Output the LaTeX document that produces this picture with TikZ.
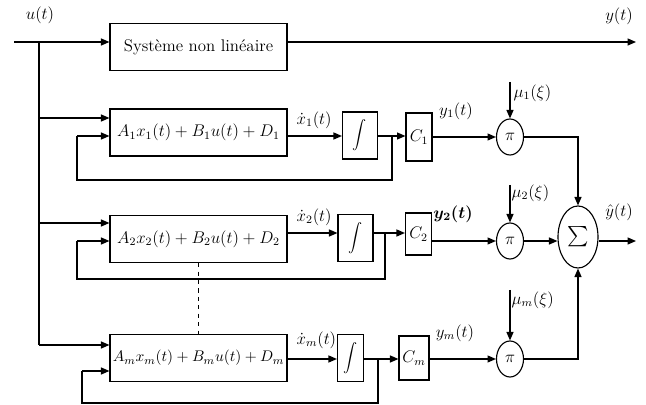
\documentclass[tikz,border=0pt]{standalone}
\usepackage{amsmath}
\usetikzlibrary{arrows.meta,shapes.geometric}

\tikzset{
  blk/.style={draw,thick,minimum width=4.425cm,minimum height=1.175cm,inner sep=0pt,font=\fontsize{11.5}{14}\selectfont},
  intbox/.style={draw,thick,minimum width=0.875cm,minimum height=1.175cm,inner sep=0pt},
  cbox/.style={draw,thick,minimum width=0.65cm,minimum height=1.2cm,inner sep=0pt,font=\large},
  mult/.style={draw,thick,ellipse,minimum width=0.675cm,minimum height=0.9cm,inner sep=0pt,font=\large},
  summ/.style={draw,thick,ellipse,minimum width=1cm,minimum height=1.55cm,inner sep=0pt,font=\Large},
  sig/.style={font=\large,inner sep=1pt},
  fl/.style={thick,-{Triangle[length=6pt,width=5pt]}},
  ln/.style={thick}
}

\begin{document}
\begin{tikzpicture}[x=0.025cm,y=-0.025cm]
            \useasboundingbox (0,0) rectangle (646,405);

            % blocs
            \node[blk,font=\large] (nl) at (198.5,47) {Système non linéaire};
            \node[blk] (b1) at (198.5,132.5) {$A_1x_1(t)+B_1u(t)+D_1$};
            \node[blk] (b2) at (198.5,239) {$A_2x_2(t)+B_2u(t)+D_2$};
            \node[blk,font=\fontsize{10.8}{13}\selectfont] (bm) at (198.5,358) {$A_mx_m(t)+B_mu(t)+D_m$};

            \node[intbox] (i1) at (360,135.5) {$\displaystyle\int$};
            \node[intbox] (i2) at (355.5,238) {$\displaystyle\int$};
            \node[intbox,minimum width=0.65cm] (im) at (350.5,358) {$\displaystyle\int$};

            \node[cbox] (c1) at (419,137) {$C_1$};
            \node[cbox,minimum height=1.05cm] (c2) at (418.5,234) {$C_2$};
            \node[cbox,minimum width=0.75cm,minimum height=1.1cm] (cm) at (414,358) {$C_m$};

            \node[mult] (p1) at (510,137) {$\pi$};
            \node[mult] (p2) at (510,241) {$\pi$};
            \node[mult] (pm) at (510,359) {$\pi$};

            \node[summ] (s) at (578,237) {$\sum$};

            % points
            \coordinate (in) at (14,42);
            \coordinate (j0) at (39,42);
            \coordinate (j1) at (39,118);
            \coordinate (j2) at (39,223);
            \coordinate (jm) at (39,345);
            \coordinate (yout) at (636,42);
            \coordinate (yhat) at (636,241);
            \coordinate (f1) at (392,136);
            \coordinate (f2) at (385,233);
            \coordinate (fm) at (378,359);
            \coordinate (m1) at (510,82);
            \coordinate (m2) at (510,185);
            \coordinate (mm) at (510,290);

            % entree et systeme non lineaire
            \draw[ln] (in) -- (j0) -- (jm);
            \draw[fl] (j0) -- (nl.west |- j0);
            \draw[fl] (nl.east |- j0) -- (yout);

            % branche 1
            \draw[fl] (j1) -- (b1.west |- j1);
            \draw[fl] (b1.east |- f1) -- (i1.west |- f1);
            \draw[fl] (i1.east |- f1) -- (c1.west |- f1);
            \draw[ln] (f1) -- (392,180) -- (77,180) -- (77,136);
            \draw[fl] (77,136) -- (b1.west |- f1);
            \draw[fl] (c1.east |- p1) -- (p1.west);
            \draw[fl] (m1) -- (p1.north);
            \draw[fl] (p1.east) -| (s.north);

            % branche 2
            \draw[fl] (j2) -- (b2.west |- j2);
            \draw[fl] (b2.east |- f2) -- (i2.west |- f2);
            \draw[fl] (i2.east |- f2) -- (c2.west |- f2);
            \draw[ln] (f2) -- (385,279) -- (77,279) -- (77,241);
            \draw[fl] (77,241) -- (b2.west |- 0,241);
            \draw[fl] (c2.east |- p2) -- (p2.west);
            \draw[fl] (m2) -- (p2.north);
            \draw[fl] (p2.east) -- (s.west |- p2);

            % branche m
            \draw[fl] (jm) -- (bm.west |- jm);
            \draw[fl] (bm.east |- fm) -- (im.west |- fm);
            \draw[fl] (im.east |- fm) -- (cm.west |- fm);
            \draw[ln] (fm) -- (378,403) -- (82,403) -- (82,371);
            \draw[fl] (82,371) -- (bm.west |- 0,371);
            \draw[fl] (cm.east |- pm) -- (pm.west);
            \draw[fl] (mm) -- (pm.north);
            \draw[fl] (pm.east) -| (s.south);

            \draw[fl] (s.east |- yhat) -- (yhat);
            \draw[ln,dashed] (b2.south) -- (bm.north);

            % etiquettes
            \node[sig] at (40,15) {$u(t)$};
            \node[sig] at (619,16) {$y(t)$};
            \node[sig,anchor=south west] at (295,130) {$\dot{x}_1(t)$};
            \node[sig,anchor=south west] at (295,227) {$\dot{x}_2(t)$};
            \node[sig,anchor=south west] at (295,350) {$\dot{x}_m(t)$};
            \node[sig] at (456,111) {$y_1(t)$};
            \node[sig] at (453,214) {$\boldsymbol{y_2(t)}$};
            \node[sig] at (455,333) {$y_m(t)$};
            \node[sig,anchor=west] at (512,93) {$\mu_1(\xi)$};
            \node[sig,anchor=west] at (510,193) {$\mu_2(\xi)$};
            \node[sig,anchor=west] at (510,300) {$\mu_m(\xi)$};
            \node[sig] at (619,212) {$\hat{y}(t)$};
        \end{tikzpicture}
\end{document}
